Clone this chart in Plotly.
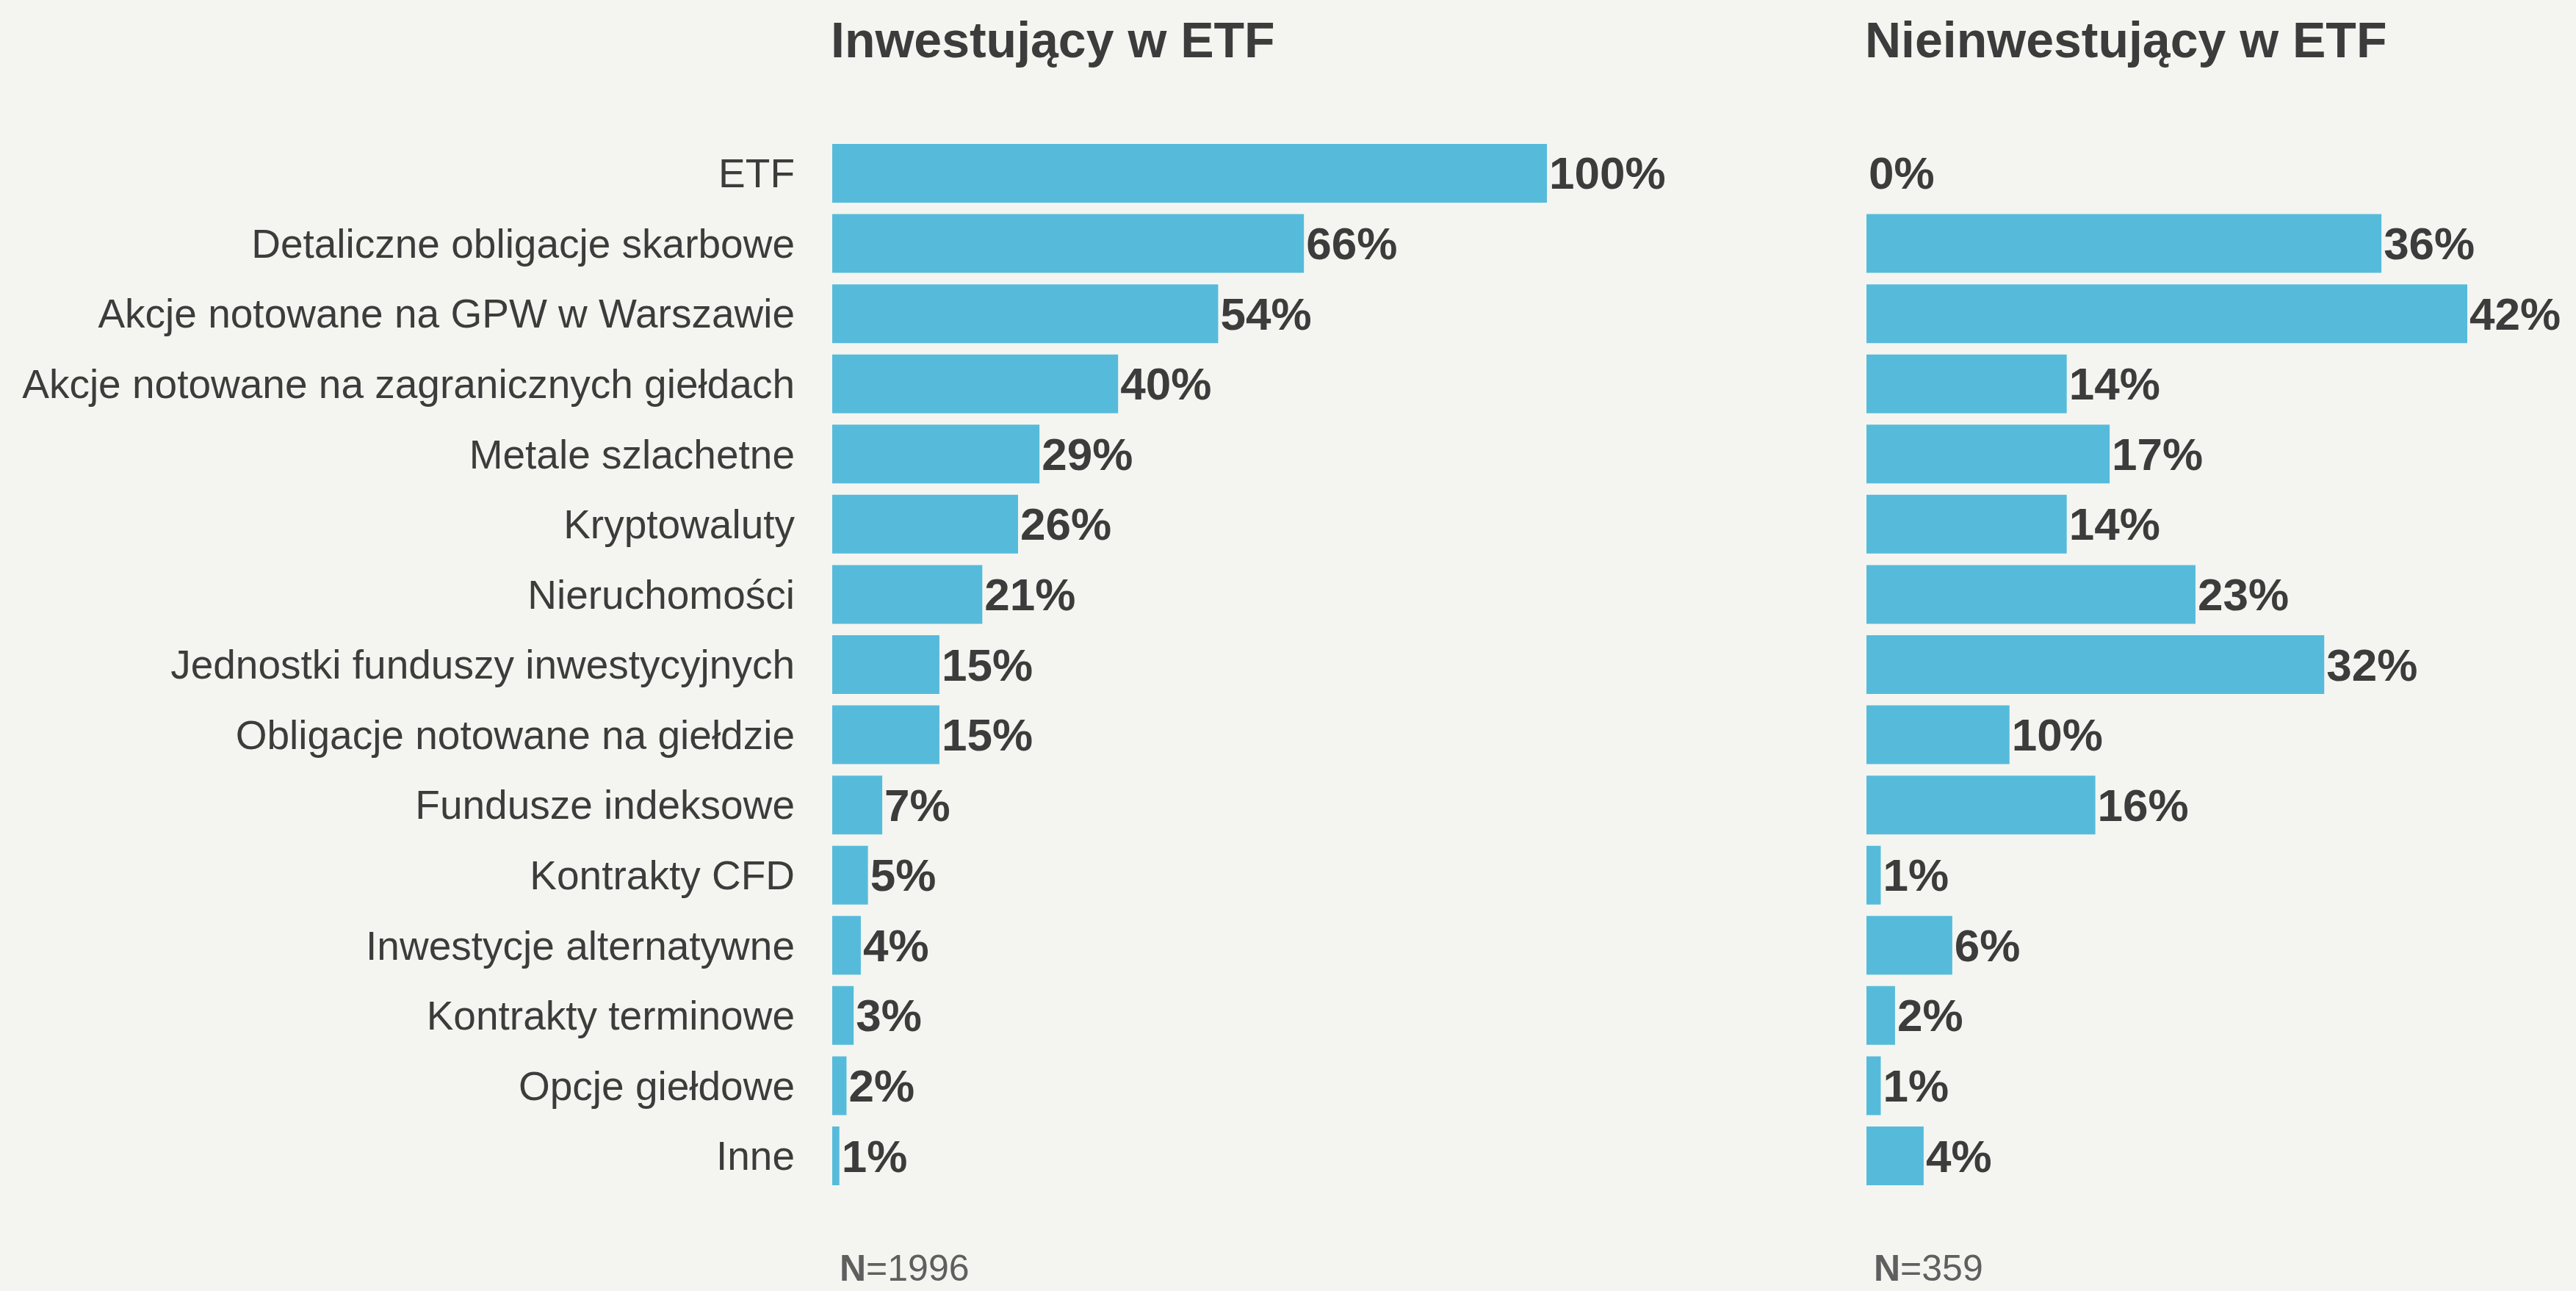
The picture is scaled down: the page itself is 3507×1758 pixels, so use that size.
import plotly.graph_objects as go

categories = [
    "ETF",
    "Detaliczne obligacje skarbowe",
    "Akcje notowane na GPW w Warszawie",
    "Akcje notowane na zagranicznych giełdach",
    "Metale szlachetne",
    "Kryptowaluty",
    "Nieruchomości",
    "Jednostki funduszy inwestycyjnych",
    "Obligacje notowane na giełdzie",
    "Fundusze indeksowe",
    "Kontrakty CFD",
    "Inwestycje alternatywne",
    "Kontrakty terminowe",
    "Opcje giełdowe",
    "Inne",
]
etf_investors = [100, 66, 54, 40, 29, 26, 21, 15, 15, 7, 5, 4, 3, 2, 1]
non_etf_investors = [0, 36, 42, 14, 17, 14, 23, 32, 10, 16, 1, 6, 2, 1, 4]
panel_titles = ["Inwestujący w ETF", "Nieinwestujący w ETF"]
sample_sizes = ["1996", "359"]

BG = "#F4F5F0"
BAR = "#56BBDB"
TXT = "#3C3C3C"
FONT = "Liberation Sans"

W, H = 3507, 1758

fig = go.Figure()
for vals, xa in [(etf_investors, "x"), (non_etf_investors, "x2")]:
    fig.add_trace(go.Bar(
        x=vals, y=categories, orientation="h",
        xaxis=xa, yaxis="y",
        marker=dict(color=BAR, line=dict(width=0)),
        texttemplate="%{x}%", textposition="outside",
        textfont=dict(family=FONT, size=62, color=TXT, weight="bold"),
        constraintext="none", cliponaxis=False,
        hoverinfo="skip", showlegend=False,
    ))

x1_dom = [1133 / W, 2106 / W]
x2_dom = [2541 / W, 3359 / W]
y_dom = [1 - 1621.8 / H, 1 - 188.2 / H]

fig.update_layout(
    width=W, height=H,
    paper_bgcolor=BG, plot_bgcolor=BG,
    margin=dict(l=0, r=0, t=0, b=0),
    bargap=0.163,
    font=dict(family=FONT, color=TXT),
    xaxis=dict(domain=x1_dom, range=[0, 100], visible=False, fixedrange=True),
    xaxis2=dict(domain=x2_dom, range=[0, 42], visible=False, fixedrange=True, anchor="y"),
    yaxis=dict(
        domain=y_dom, autorange="reversed", showgrid=False, zeroline=False,
        showline=False, ticks="", ticklabelstandoff=50, fixedrange=True,
        tickfont=dict(family=FONT, size=55, color=TXT),
        categoryorder="array", categoryarray=categories,
    ),
)

for title, n, dom in zip(panel_titles, sample_sizes, [x1_dom, x2_dom]):
    fig.add_annotation(
        text=title, xref="paper", yref="paper",
        x=dom[0], y=1 - 54 / H, xanchor="left", yanchor="middle",
        showarrow=False, xshift=-4,
        font=dict(family=FONT, size=68, color=TXT, weight="bold"),
    )
    fig.add_annotation(
        text="<b>N</b>=" + n, xref="paper", yref="paper",
        x=dom[0], y=1 - 1727 / H, xanchor="left", yanchor="middle",
        showarrow=False, xshift=8,
        font=dict(family=FONT, size=50, color="#5F5F5F"),
    )

fig.write_html(
    "out.html",
    config={"displayModeBar": False},
    post_script="document.body.style.margin='0';document.body.style.background='#F4F5F0';",
)
